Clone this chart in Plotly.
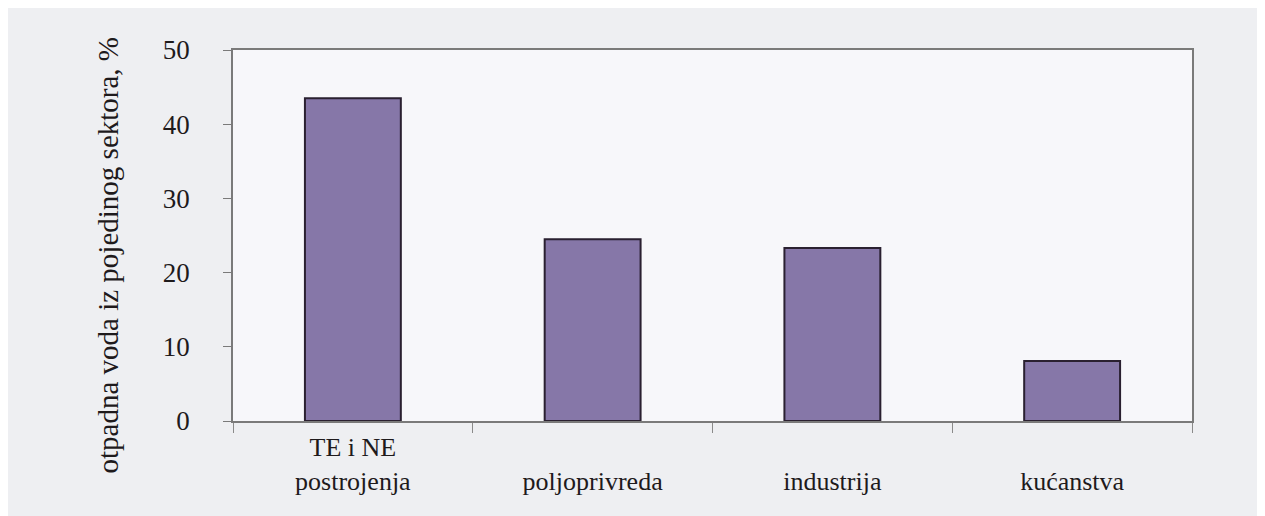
import plotly.graph_objects as go

categories = ["TE i NE<br>postrojenja", "\u00a0<br>poljoprivreda", "\u00a0<br>industrija", "\u00a0<br>kućanstva"]
values = [43.5, 24.5, 23.3, 8.1]
y_ticks = [0, 10, 20, 30, 40, 50]
y_title = "otpadna voda iz pojedinog sektora, %"

fig = go.Figure(go.Bar(
    x=categories, y=values,
    marker=dict(color="#8677a8", line=dict(color="#2a2030", width=2)),
    width=0.4,
))

font = "Liberation Serif, Times New Roman, serif"
fig.update_layout(
    width=1265, height=516,
    margin=dict(l=225, r=81, t=42, b=103),
    paper_bgcolor="#eeeff2",
    plot_bgcolor="#f7f7fa",
    showlegend=False,
    font=dict(family=font, size=26, color="#1e1a1c"),
)
fig.add_annotation(
    text=y_title, textangle=-90, showarrow=False,
    xref="paper", yref="paper", x=-0.130, y=0.447,
    xanchor="center", yanchor="middle",
    font=dict(size=29, family=font, color="#1e1a1c"),
)
fig.update_yaxes(
    range=[0, 50], tickvals=y_ticks, showgrid=False, zeroline=False,
    showline=True, linecolor="#7a7a7a", linewidth=1.5, mirror=True,
    ticks="outside", ticklen=8, tickcolor="#7a7a7a", ticklabelstandoff=28,
    tickfont=dict(size=27),
)
fig.update_xaxes(
    showgrid=False, showline=True, linecolor="#7a7a7a", linewidth=1.5, mirror=True,
    ticks="outside", tickson="boundaries", ticklen=10, tickcolor="#8a8a8a",
    ticklabelstandoff=2,
)
fig.write_html("out.html")
